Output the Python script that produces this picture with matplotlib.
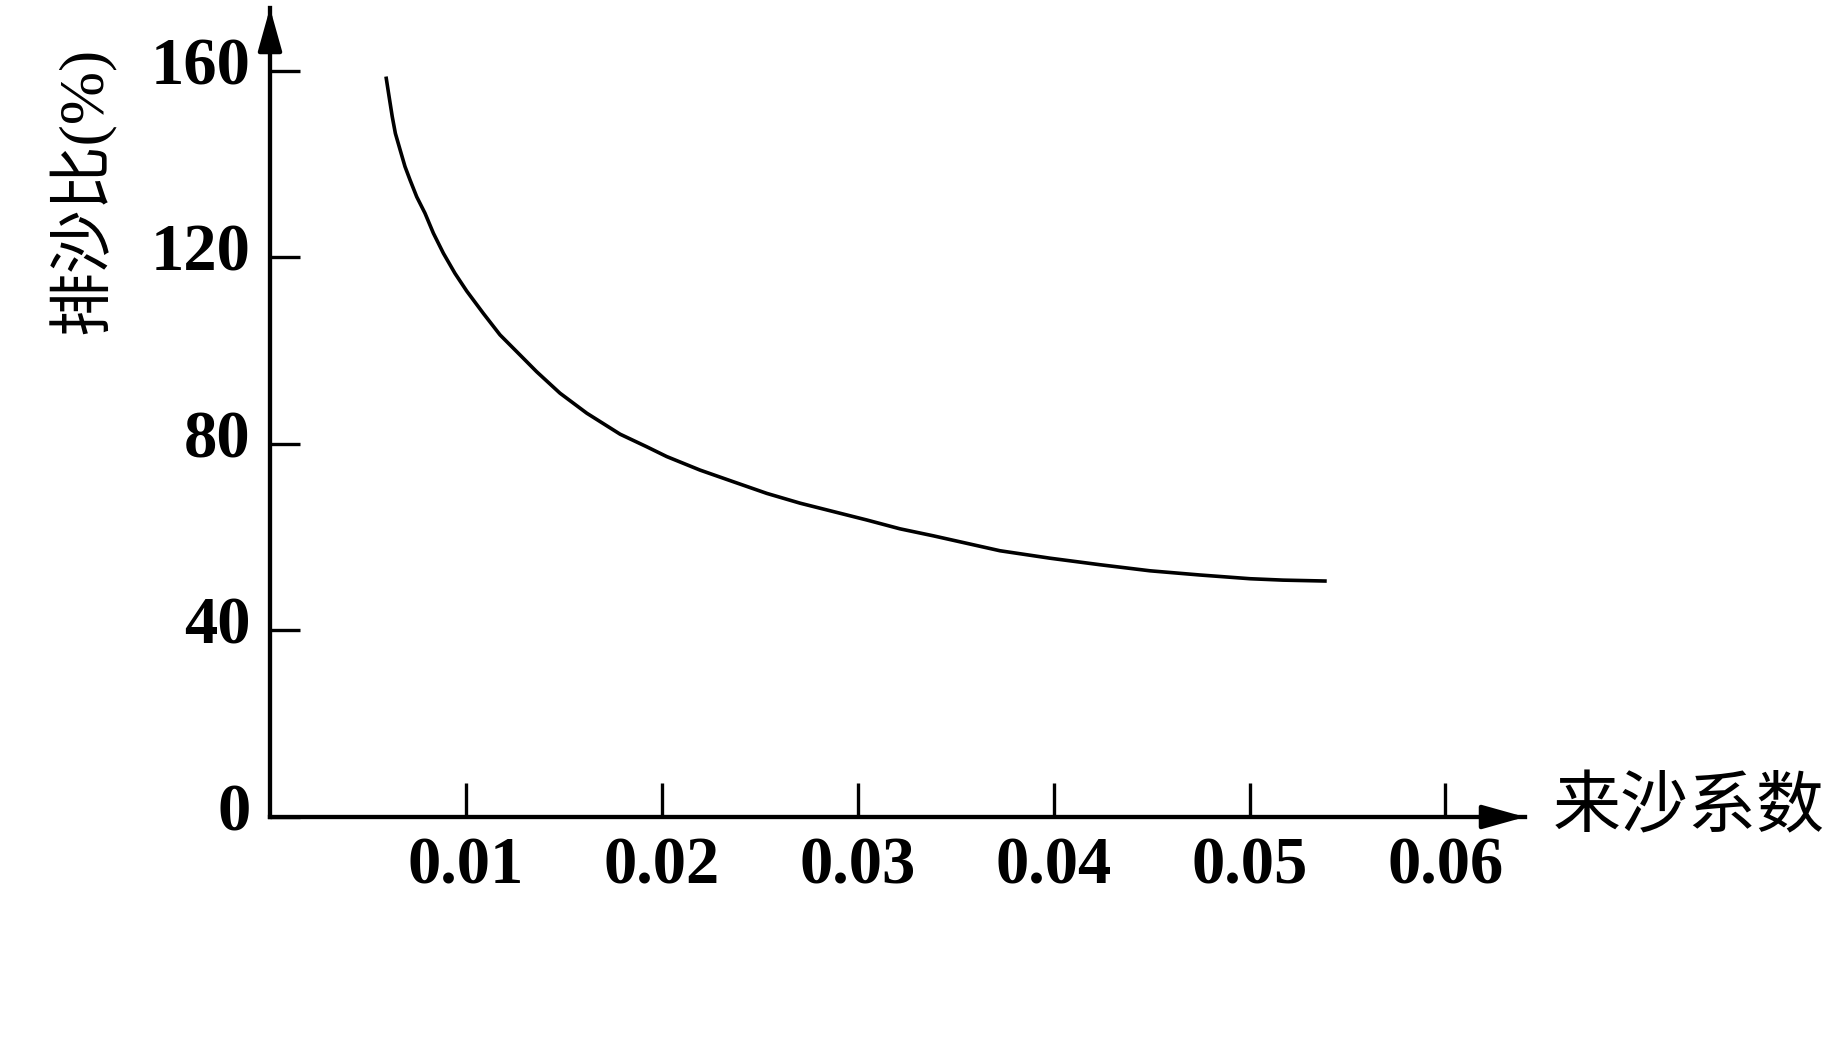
import matplotlib
matplotlib.use("Agg")
import matplotlib.pyplot as plt
import matplotlib.transforms as mtransforms

# -----------------------------
# Data
# -----------------------------
sediment_coef = [0.00592, 0.00606, 0.00624, 0.00640, 0.00664, 0.00689, 0.00715,
                 0.00749, 0.00791, 0.00834, 0.00885, 0.00944, 0.01004, 0.01089,
                 0.01174, 0.01276, 0.01361, 0.01480, 0.01617, 0.01787, 0.01923,
                 0.02025, 0.02195, 0.02365, 0.02536, 0.02706, 0.02876, 0.03046,
                 0.03216, 0.03386, 0.03556, 0.03726, 0.03982, 0.04237, 0.04492,
                 0.04747, 0.05003, 0.05171, 0.05394]
discharge_ratio = [158.8, 155.0, 150.2, 146.6, 143.1, 139.5, 136.6,
                   133.0, 129.5, 125.2, 120.9, 116.6, 112.8, 108.0,
                   103.4, 99.1, 95.5, 90.9, 86.6, 82.1, 79.4,
                   77.3, 74.4, 71.9, 69.4, 67.3, 65.5, 63.7,
                   61.8, 60.3, 58.7, 57.1, 55.5, 54.1, 52.8,
                   51.9, 51.1, 50.8, 50.6]

x_ticks = [0.01, 0.02, 0.03, 0.04, 0.05, 0.06]
x_tick_labels = ["0.01", "0.02", "0.03", "0.04", "0.05", "0.06"]
y_ticks = [0, 40, 80, 120, 160]
y_tick_labels = ["0", "40", "80", "120", "160"]

x_label = "来沙系数"
y_label = "排沙比(%)"

# -----------------------------
# Figure
# -----------------------------
W, H = 1847, 1037
fig = plt.figure(figsize=(W / 100, H / 100), dpi=100)
ax = fig.add_axes([270 / W, (H - 817) / H, (1525 - 270) / W, (817 - 8) / H])

ax.plot(sediment_coef, discharge_ratio, color="black", lw=2.6,
        solid_capstyle="butt", solid_joinstyle="round")

ax.set_xlim(0, 0.06406)
ax.set_ylim(0, 173.5)

for side in ["top", "right"]:
    ax.spines[side].set_visible(False)
for side in ["left", "bottom"]:
    ax.spines[side].set_linewidth(3.1)

# arrow heads on the axes
arrow_kw = dict(arrowstyle="-|>,head_length=1.0,head_width=0.28", color="black",
                lw=3.1, mutation_scale=26, shrinkA=0, shrinkB=0)
ax.annotate("", xy=(1, 0), xytext=(0.97, 0), xycoords="axes fraction",
            arrowprops=arrow_kw, annotation_clip=False)
ax.annotate("", xy=(0, 1), xytext=(0, 0.96), xycoords="axes fraction",
            arrowprops=arrow_kw, annotation_clip=False)

serif = ["Liberation Serif", "DejaVu Serif"]
ax.set_xticks(x_ticks)
ax.set_xticklabels(x_tick_labels, family=serif, fontsize=48, fontweight="bold")
ax.set_yticks(y_ticks)
ax.set_yticklabels(y_tick_labels, family=serif, fontsize=48, fontweight="bold")
ax.tick_params(axis="x", direction="in", length=24.5, width=2.4, pad=14)
ax.tick_params(axis="y", direction="in", length=21.6, width=2.4, pad=14)

# y tick labels sit a little above their ticks in the reference
shift = mtransforms.ScaledTranslation(0, 0.10, fig.dpi_scale_trans)
for lab in ax.get_yticklabels():
    lab.set_transform(lab.get_transform() + shift)

fig.text(1553 / W, 1 - 808 / H, x_label, ha="left", va="center",
         fontsize=49, family=["Noto Sans CJK SC", "DejaVu Sans"])
fig.text(82 / W, 1 - 190 / H, y_label, ha="center", va="center", rotation=90,
         fontsize=46, family=["Liberation Serif", "Noto Sans CJK SC"])

fig.savefig("out.png", dpi=100, facecolor="white")
